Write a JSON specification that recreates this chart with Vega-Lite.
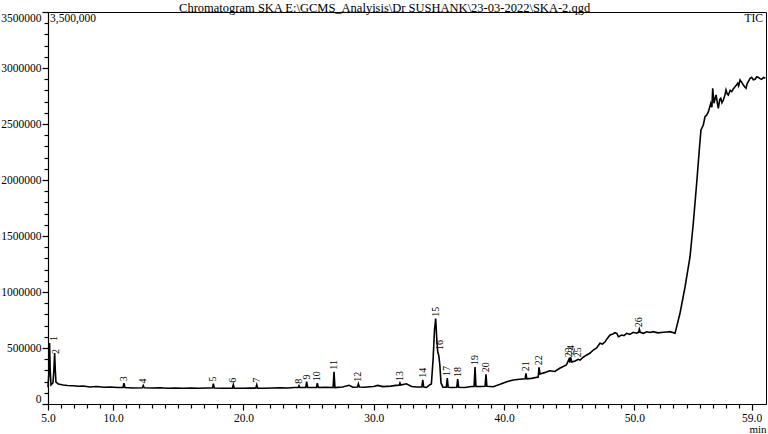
{
  "$schema": "https://vega.github.io/schema/vega-lite/v6.json",
  "width": 718,
  "height": 392,
  "autosize": {"type": "none"},
  "padding": {"left": 48, "top": 12, "right": 2, "bottom": 30},
  "background": "white",
  "title": {"text": "Chromatogram SKA E:\\GCMS_Analyisis\\Dr SUSHANK\\23-03-2022\\SKA-2.qgd", "anchor": "middle", "frame": "bounds", "font": "Liberation Serif", "fontSize": 12.5, "fontWeight": "normal", "color": "black", "offset": 0, "dy": 3},
  "config": {
    "view": {"stroke": "black", "strokeWidth": 1},
    "axis": {"grid": false, "domainColor": "black", "domainWidth": 1.2, "tickColor": "black", "labelColor": "black", "labelFont": "Liberation Serif", "labelFontSize": 11.5, "titleFont": "Liberation Serif", "titleColor": "black"}
  },
  "datasets": {
    "trace": [
      {"t":5.0,"v":150000},{"t":5.08,"v":300000},{"t":5.12,"v":545000},{"t":5.17,"v":300000},{"t":5.23,"v":170000},
      {"t":5.38,"v":188000},{"t":5.45,"v":300000},{"t":5.51,"v":455000},{"t":5.56,"v":300000},{"t":5.61,"v":196000},
      {"t":5.79,"v":179000},{"t":6.17,"v":170000},{"t":6.5,"v":165000},{"t":6.94,"v":163000},{"t":7.3,"v":158000},
      {"t":7.71,"v":161000},{"t":8.2,"v":152000},{"t":8.74,"v":156000},{"t":9.3,"v":150000},{"t":9.8,"v":152000},
      {"t":10.3,"v":147000},{"t":10.76,"v":147000},{"t":10.83,"v":185000},{"t":10.9,"v":147000},{"t":11.5,"v":143000},
      {"t":12.24,"v":145000},{"t":12.31,"v":165000},{"t":12.38,"v":145000},{"t":13.0,"v":143000},{"t":13.6,"v":145000},
      {"t":14.2,"v":140000},{"t":14.8,"v":143000},{"t":15.4,"v":140000},{"t":16.0,"v":142000},{"t":16.6,"v":140000},
      {"t":17.2,"v":143000},{"t":17.62,"v":143000},{"t":17.69,"v":182000},{"t":17.76,"v":143000},{"t":18.4,"v":140000},
      {"t":19.15,"v":141000},{"t":19.22,"v":172000},{"t":19.29,"v":141000},{"t":20.0,"v":140000},{"t":20.5,"v":143000},
      {"t":20.95,"v":142000},{"t":21.02,"v":172000},{"t":21.09,"v":142000},{"t":21.6,"v":140000},{"t":22.2,"v":143000},
      {"t":22.8,"v":145000},{"t":23.4,"v":143000},{"t":23.9,"v":147000},{"t":24.2,"v":147000},{"t":24.26,"v":163000},
      {"t":24.32,"v":147000},{"t":24.78,"v":148000},{"t":24.85,"v":200000},{"t":24.92,"v":148000},{"t":25.3,"v":147000},
      {"t":25.6,"v":147000},{"t":25.67,"v":185000},{"t":25.74,"v":147000},{"t":26.3,"v":150000},{"t":26.88,"v":147000},
      {"t":26.95,"v":288000},{"t":27.02,"v":147000},{"t":27.6,"v":152000},{"t":28.1,"v":167000},{"t":28.4,"v":150000},
      {"t":28.75,"v":152000},{"t":28.82,"v":180000},{"t":28.89,"v":152000},{"t":29.3,"v":150000},{"t":29.7,"v":154000},
      {"t":30.0,"v":156000},{"t":30.3,"v":166000},{"t":30.7,"v":155000},{"t":31.3,"v":160000},{"t":31.7,"v":166000},
      {"t":31.95,"v":168000},{"t":32.01,"v":188000},{"t":32.07,"v":170000},{"t":32.5,"v":180000},{"t":32.9,"v":156000},
      {"t":33.3,"v":152000},{"t":33.69,"v":152000},{"t":33.76,"v":216000},{"t":33.83,"v":152000},{"t":34.05,"v":149000},
      {"t":34.28,"v":170000},{"t":34.42,"v":178000},{"t":34.55,"v":393000},{"t":34.66,"v":661000},{"t":34.75,"v":762000},
      {"t":34.84,"v":571000},{"t":34.91,"v":464000},{"t":34.99,"v":432000},{"t":35.07,"v":348000},{"t":35.16,"v":188000},
      {"t":35.31,"v":150000},{"t":35.57,"v":150000},{"t":35.64,"v":232000},{"t":35.71,"v":150000},{"t":36.0,"v":147000},
      {"t":36.37,"v":150000},{"t":36.44,"v":223000},{"t":36.51,"v":150000},{"t":37.0,"v":147000},{"t":37.5,"v":156000},
      {"t":37.7,"v":156000},{"t":37.77,"v":330000},{"t":37.84,"v":156000},{"t":38.2,"v":156000},{"t":38.54,"v":158000},
      {"t":38.61,"v":265000},{"t":38.68,"v":158000},{"t":39.17,"v":154000},{"t":39.7,"v":176000},{"t":40.2,"v":199000},
      {"t":40.7,"v":214000},{"t":41.2,"v":221000},{"t":41.62,"v":225000},{"t":41.68,"v":274000},{"t":41.74,"v":225000},
      {"t":42.1,"v":229000},{"t":42.62,"v":241000},{"t":42.68,"v":328000},{"t":42.76,"v":268000},{"t":43.1,"v":280000},
      {"t":43.5,"v":297000},{"t":43.9,"v":290000},{"t":44.27,"v":319000},{"t":44.78,"v":348000},{"t":44.98,"v":400000},
      {"t":45.04,"v":370000},{"t":45.1,"v":417000},{"t":45.2,"v":375000},{"t":45.45,"v":384000},{"t":45.7,"v":399000},
      {"t":45.83,"v":393000},{"t":46.1,"v":420000},{"t":46.35,"v":438000},{"t":46.6,"v":455000},{"t":46.85,"v":482000},
      {"t":47.1,"v":500000},{"t":47.36,"v":542000},{"t":47.55,"v":535000},{"t":47.75,"v":556000},{"t":47.95,"v":590000},
      {"t":48.13,"v":616000},{"t":48.35,"v":625000},{"t":48.51,"v":637000},{"t":48.65,"v":630000},{"t":48.77,"v":601000},
      {"t":49.03,"v":616000},{"t":49.2,"v":610000},{"t":49.41,"v":631000},{"t":49.65,"v":622000},{"t":49.92,"v":640000},
      {"t":50.15,"v":632000},{"t":50.32,"v":640000},{"t":50.38,"v":667000},{"t":50.45,"v":640000},{"t":50.69,"v":631000},
      {"t":50.95,"v":645000},{"t":51.2,"v":638000},{"t":51.45,"v":646000},{"t":51.8,"v":635000},{"t":52.22,"v":640000},
      {"t":52.5,"v":643000},{"t":52.74,"v":646000},{"t":53.12,"v":631000},{"t":53.5,"v":810000},{"t":53.89,"v":1047000},
      {"t":54.27,"v":1315000},{"t":54.52,"v":1614000},{"t":54.78,"v":1971000},{"t":54.98,"v":2268000},{"t":55.11,"v":2447000},
      {"t":55.29,"v":2491000},{"t":55.42,"v":2565000},{"t":55.55,"v":2580000},{"t":55.68,"v":2610000},{"t":55.86,"v":2685000},
      {"t":55.95,"v":2650000},{"t":56.01,"v":2819000},{"t":56.11,"v":2685000},{"t":56.2,"v":2730000},{"t":56.27,"v":2759000},
      {"t":56.35,"v":2700000},{"t":56.44,"v":2640000},{"t":56.55,"v":2720000},{"t":56.63,"v":2730000},{"t":56.72,"v":2690000},
      {"t":56.83,"v":2714000},{"t":56.95,"v":2760000},{"t":57.03,"v":2804000},{"t":57.12,"v":2770000},{"t":57.21,"v":2759000},
      {"t":57.35,"v":2800000},{"t":57.47,"v":2789000},{"t":57.6,"v":2815000},{"t":57.72,"v":2833000},{"t":57.85,"v":2850000},
      {"t":57.93,"v":2864000},{"t":58.0,"v":2840000},{"t":58.11,"v":2893000},{"t":58.25,"v":2870000},{"t":58.36,"v":2848000},
      {"t":58.47,"v":2830000},{"t":58.57,"v":2819000},{"t":58.65,"v":2860000},{"t":58.74,"v":2878000},{"t":58.87,"v":2905000},
      {"t":59.0,"v":2917000},{"t":59.13,"v":2895000},{"t":59.26,"v":2899000},{"t":59.38,"v":2920000},{"t":59.51,"v":2917000},
      {"t":59.64,"v":2905000},{"t":59.77,"v":2899000},{"t":59.9,"v":2915000},{"t":60.05,"v":2908000}
    ],
    "peaks": [
      {"label":"1","t":5.46,"v":545000},{"label":"2","t":5.58,"v":429000},{"label":"3","t":10.83,"v":185000},
      {"label":"4","t":12.31,"v":165000},{"label":"5","t":17.69,"v":182000},{"label":"6","t":19.22,"v":172000},
      {"label":"7","t":21.02,"v":172000},{"label":"8","t":24.26,"v":163000},{"label":"9","t":24.85,"v":200000},
      {"label":"10","t":25.67,"v":185000},{"label":"11","t":26.95,"v":288000},{"label":"12","t":28.82,"v":180000},
      {"label":"13","t":32.01,"v":188000},{"label":"14","t":33.76,"v":216000},{"label":"15","t":34.75,"v":762000},
      {"label":"16","t":35.05,"v":464000},{"label":"17","t":35.64,"v":232000},{"label":"18","t":36.44,"v":223000},
      {"label":"19","t":37.77,"v":330000},{"label":"20","t":38.61,"v":265000},{"label":"21","t":41.68,"v":274000},
      {"label":"22","t":42.68,"v":328000},{"label":"23","t":44.98,"v":400000},{"label":"24","t":45.1,"v":417000},
      {"label":"25","t":45.7,"v":399000},{"label":"26","t":50.38,"v":667000}
    ]
  },
  "encoding": {
    "x": {
      "field": "t", "type": "quantitative",
      "scale": {"domain": [5, 60.1], "nice": false, "zero": false},
      "axis": {
        "title": "min", "titleAnchor": "end", "titleFontSize": 11, "titleFontWeight": "normal", "titlePadding": 0,
        "values": [5,6,7,8,9,10,11,12,13,14,15,16,17,18,19,20,21,22,23,24,25,26,27,28,29,30,31,32,33,34,35,36,37,38,39,40,41,42,43,44,45,46,47,48,49,50,51,52,53,54,55,56,57,58,59],
        "labelExpr": "indexof([5,10,20,30,40,50,59], datum.value) >= 0 ? format(datum.value, '.1f') : ''",
        "tickSize": {"condition": {"test": "indexof([5,10,20,30,40,50,59], datum.value) >= 0", "value": 6}, "value": 4},
        "tickWidth": 1.2,
        "labelPadding": 2, "labelOverlap": false, "labelFlush": false
      }
    },
    "y": {
      "field": "v", "type": "quantitative",
      "scale": {"domain": [0, 3500000], "nice": false},
      "axis": {
        "title": null,
        "values": [0,100000,200000,300000,400000,500000,600000,700000,800000,900000,1000000,1100000,1200000,1300000,1400000,1500000,1600000,1700000,1800000,1900000,2000000,2100000,2200000,2300000,2400000,2500000,2600000,2700000,2800000,2900000,3000000,3100000,3200000,3300000,3400000,3500000],
        "labelExpr": "datum.value % 500000 === 0 ? format(datum.value, 'd') : ''",
        "tickSize": {"condition": {"test": "datum.value % 500000 === 0", "value": 6}, "value": 4},
        "tickWidth": 1.2,
        "labelPadding": 1, "labelOverlap": false, "labelFlush": true
      }
    }
  },
  "layer": [
    {
      "data": {"name": "trace"},
      "mark": {"type": "line", "color": "black", "strokeWidth": 1.6}
    },
    {
      "data": {"name": "peaks"},
      "mark": {"type": "text", "angle": 270, "align": "left", "baseline": "middle", "dx": 2, "font": "Liberation Serif", "fontSize": 10, "color": "black"},
      "encoding": {"text": {"field": "label"}}
    },
    {
      "data": {"values": [{"label": "3,500,000", "t": 5, "v": 3500000}]},
      "mark": {"type": "text", "align": "left", "baseline": "top", "dx": 2, "dy": 1, "font": "Liberation Serif", "fontSize": 11.5, "color": "black"},
      "encoding": {"text": {"field": "label"}}
    },
    {
      "data": {"values": [{"label": "TIC", "t": 60.1, "v": 3500000}]},
      "mark": {"type": "text", "align": "right", "baseline": "top", "dx": -3, "dy": 1, "font": "Liberation Serif", "fontSize": 11.5, "color": "black"},
      "encoding": {"text": {"field": "label"}}
    }
  ]
}
